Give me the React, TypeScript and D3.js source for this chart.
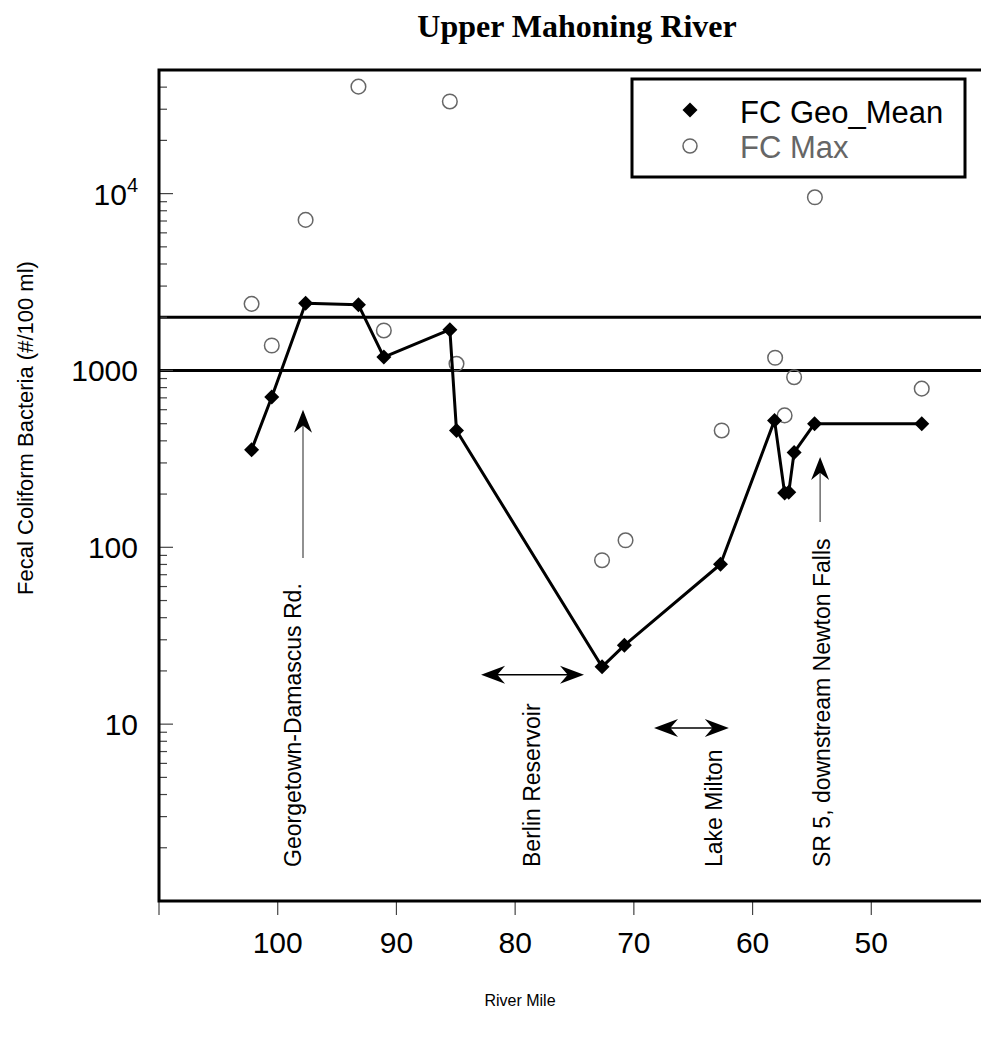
import React from "react";
import * as d3 from "d3";

// Geometric mean series (river mile, #/100 ml)
const geoMile = [102.2, 100.5, 97.65, 93.2, 91.06, 85.5, 84.94, 72.68, 70.8, 62.7, 58.15, 57.3, 56.95, 56.5, 54.78, 45.75];
const geoMean = [356, 707, 2400, 2350, 1190, 1700, 458, 21.1, 27.9, 80.2, 522, 203, 205, 344, 500, 500];

// Maximum series
const maxMile = [102.2, 100.5, 97.65, 93.2, 91.06, 85.5, 84.94, 72.68, 70.7, 62.6, 58.1, 57.3, 56.5, 54.75, 45.75];
const maxValue = [2380, 1384, 7100, 40250, 1683, 33200, 1091, 84.5, 109.6, 458, 1180, 557, 916, 9530, 789];

const xTicks = [110, 100, 90, 80, 70, 60, 50, 40];
const xTickLabels = ["", "100", "90", "80", "70", "60", "50", ""];
const yMajor = [10, 100, 1000, 10000];
const yMajorLabels = ["10", "100", "1000", "10^4"];
const refLines = [1000, 2000];

const annotations = [
  { text: "Georgetown-Damascus Rd.", baseMile: 98.0 },
  { text: "Berlin Reservoir", baseMile: 77.9 },
  { text: "Lake Milton", baseMile: 62.57 },
  { text: "SR 5, downstream Newton Falls", baseMile: 53.47 },
];
const upArrows = [
  { mile: 97.87, tip: 599, tail: 87 },
  { mile: 54.31, tip: 324, tail: 139 },
];
const spans = [
  { from: 82.87, to: 74.2, value: 19.0 },
  { from: 68.3, to: 62.0, value: 9.52 },
];

export default function App() {
  const W = 981, H = 1045;
  const x = d3.scaleLinear().domain([110, 40]).range([159, 990]);
  const y = d3.scaleLog().domain([1, 50000]).range([901, 70]);

  const line = d3.line<number>()
    .x((_, i) => x(geoMile[i]))
    .y((d) => y(d));

  const minorTicks: { v: number; major: boolean }[] = [];
  for (let e = 0; e <= 4; e++) {
    for (let k = 1; k <= 9; k++) {
      const v = k * Math.pow(10, e);
      if (v > 50000 || v === 1) continue;
      minorTicks.push({ v, major: k === 1 });
    }
  }

  const diamond = (cx: number, cy: number, r = 7.5) =>
    `M${cx},${cy - r}L${cx + r},${cy}L${cx},${cy + r}L${cx - r},${cy}Z`;

  const headUp = (tx: number, ty: number, L = 23, hw = 9) =>
    `M${tx},${ty}L${tx + hw},${ty + L}L${tx},${ty + L * 0.68}L${tx - hw},${ty + L}Z`;
  const headLeft = (tx: number, ty: number, L = 24, hw = 9) =>
    `M${tx},${ty}L${tx + L},${ty - hw}L${tx + L * 0.68},${ty}L${tx + L},${ty + hw}Z`;
  const headRight = (tx: number, ty: number, L = 24, hw = 9) =>
    `M${tx},${ty}L${tx - L},${ty - hw}L${tx - L * 0.68},${ty}L${tx - L},${ty + hw}Z`;

  const sans = "Arial, 'Liberation Sans', Helvetica, sans-serif";

  return (
    <svg width={W} height={H} style={{ position: "absolute", left: 0, top: 0, background: "#fff" }}>
      <rect x={0} y={0} width={W} height={H} fill="#fff" />
      <text x={577} y={37} textAnchor="middle" fontFamily="'Liberation Serif', 'Times New Roman', serif" fontWeight="bold" fontSize={32}>
        Upper Mahoning River
      </text>

      {/* reference lines */}
      {refLines.map((v) => (
        <line key={v} x1={x(110)} x2={x(40)} y1={y(v)} y2={y(v)} stroke="#000" strokeWidth={3} />
      ))}

      {/* y ticks (inside) */}
      {minorTicks.map((t) => (
        <line key={t.v} x1={x(110)} x2={x(110) + (t.major ? 14 : 8)} y1={y(t.v)} y2={y(t.v)} stroke="#444" strokeWidth={1.2} />
      ))}

      {/* x ticks (outside) */}
      {xTicks.map((t, i) => (
        <g key={t}>
          <line x1={x(t)} x2={x(t)} y1={y(1)} y2={y(1) + 14} stroke="#444" strokeWidth={1.2} />
          {xTickLabels[i] && (
            <text x={x(t)} y={953} textAnchor="middle" fontFamily={sans} fontSize={30} fill="#000">
              {xTickLabels[i]}
            </text>
          )}
        </g>
      ))}

      {/* y labels */}
      {yMajor.map((v, i) =>
        yMajorLabels[i] === "10^4" ? (
          <text key={v} x={138} y={y(v) + 11} textAnchor="end" fontFamily={sans} fontSize={30} fill="#000">
            10<tspan dy={-13} fontSize={20}>4</tspan>
          </text>
        ) : (
          <text key={v} x={138} y={y(v) + 11} textAnchor="end" fontFamily={sans} fontSize={30} fill="#000">
            {yMajorLabels[i]}
          </text>
        )
      )}

      {/* frame */}
      <path d={`M${x(110)},${y(50000)}L${x(110)},${y(1)}L${x(40)},${y(1)}L${x(40)},${y(50000)}Z`} fill="none" stroke="#000" strokeWidth={3} />

      {/* axis titles */}
      <text x={520} y={1006} textAnchor="middle" fontFamily={sans} fontSize={16}>River Mile</text>
      <text transform="translate(33,428) rotate(-90)" textAnchor="middle" fontFamily={sans} fontSize={22}>
        Fecal Coliform Bacteria (#/100 ml)
      </text>

      {/* annotations */}
      {annotations.map((a) => (
        <text key={a.text} transform={`translate(${x(a.baseMile)},867) rotate(-90)`} fontFamily={sans} fontSize={23} fill="#000">
          {a.text}
        </text>
      ))}
      {upArrows.map((a) => (
        <g key={a.mile}>
          <line x1={x(a.mile)} x2={x(a.mile)} y1={y(a.tip) + 15} y2={y(a.tail)} stroke="#555" strokeWidth={1.3} />
          <path d={headUp(x(a.mile), y(a.tip))} fill="#000" />
        </g>
      ))}
      {spans.map((s) => (
        <g key={s.from}>
          <line x1={x(s.from) + 10} x2={x(s.to) - 10} y1={y(s.value)} y2={y(s.value)} stroke="#000" strokeWidth={1.5} />
          <path d={headLeft(x(s.from), y(s.value))} fill="#000" />
          <path d={headRight(x(s.to), y(s.value))} fill="#000" />
        </g>
      ))}

      {/* max circles */}
      {maxValue.map((v, i) => (
        <circle key={i} cx={x(maxMile[i])} cy={y(v)} r={7.3} fill="none" stroke="#666" strokeWidth={1.5} />
      ))}

      {/* geo mean line + diamonds */}
      <path d={line(geoMean) || ""} fill="none" stroke="#000" strokeWidth={3} strokeLinejoin="round" />
      {geoMean.map((v, i) => (
        <path key={i} d={diamond(x(geoMile[i]), y(v))} fill="#000" />
      ))}

      {/* legend */}
      <rect x={632} y={79} width={333} height={98} fill="#fff" stroke="#000" strokeWidth={3} />
      <path d={diamond(690, 110)} fill="#000" />
      <circle cx={690} cy={146} r={7} fill="none" stroke="#666" strokeWidth={1.5} />
      <text x={740} y={122.5} fontFamily={sans} fontSize={31} fill="#000">FC Geo_Mean</text>
      <text x={740} y={157.5} fontFamily={sans} fontSize={31} fill="#666">FC Max</text>
    </svg>
  );
}
